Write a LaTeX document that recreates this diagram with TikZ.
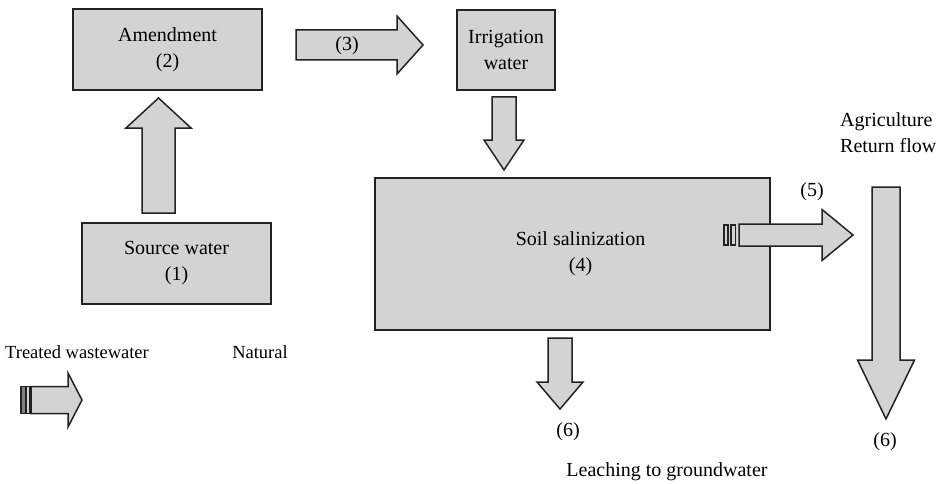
\documentclass[tikz,border=0pt]{standalone}
\usepackage{fontspec}
\setmainfont{Liberation Serif}
\usepackage{xcolor}
\usetikzlibrary{calc}
\definecolor{boxgray}{HTML}{D3D3D3}
\definecolor{inkgray}{HTML}{222222}
% fat arrow: tail, tip, half shaft, half head, head length
\newcommand{\fatflow}[5]{%
  \coordinate (hb) at ($(#2)!#5pt!(#1)$);
  \draw[F] ($(#1)!#3pt!90:(#2)$) -- ($(hb)!#3pt!90:(#2)$) -- ($(hb)!#4pt!90:(#2)$)
    -- (#2) -- ($(hb)!#4pt!-90:(#2)$) -- ($(hb)!#3pt!-90:(#2)$) -- ($(#1)!#3pt!-90:(#2)$) -- cycle;}

\begin{document}
\begin{tikzpicture}[x=1pt,y=-1pt,font=\fontsize{20}{26}\selectfont]
      \useasboundingbox(0,0) rectangle (944,484);
      \tikzset{B/.style = {draw=inkgray, fill=boxgray, line width=1.5pt, align=center, inner sep=0pt}}
      \tikzset{F/.style = {draw=inkgray, fill=boxgray, line width=1.5pt}}
      \tikzset{T/.style = {inner sep=0pt, text=black}}
      \tikzset{legend/.style = {T, font=\fontsize{18.5}{22}\selectfont}}
      \node[B,minimum width=189pt,minimum height=81pt](amend) at (167.5,49.5) {Amendment\\(2)};
      \node[B,minimum width=189pt,minimum height=81pt](src) at (176.5,263.5) {Source water\\(1)};
      \node[B,minimum width=98pt,minimum height=80pt](irrig) at (506,50) {Irrigation\\water};
      \node[B,minimum width=395pt,minimum height=152pt](soil) at (572.5,254) {Soil salinization\hspace*{-16pt}\\(4)\hspace*{-16pt}};
      \node[legend,anchor=base west](treated) at (5,358) {Treated wastewater};
      \node[legend,anchor=base](natural) at (260,358) {Natural};
      \node[T,anchor=base west](agri) at (840,126) {Agriculture};
      \node[T,anchor=base west](ret) at (840,152) {Return flow};
      \node[T,anchor=base](leach) at (667,476) {Leaching to groundwater};
      \coordinate (up0) at (158.5,213);
      \coordinate (up1) at (158.5,98);
      \coordinate (q0) at (296,45);
      \coordinate (q1) at (423,45);
      \coordinate (ir0) at (504,97);
      \coordinate (ir1) at (504,170);
      \coordinate (le0) at (560,338);
      \coordinate (le1) at (560,409);
      \coordinate (rf0) at (739,235);
      \coordinate (rf1) at (853,235);
      \coordinate (ag0) at (886,187);
      \coordinate (ag1) at (886,419);
      \coordinate (tw0) at (31,400);
      \coordinate (tw1) at (82,400);
      \fatflow{up0}{up1}{16.5}{32.5}{30}
      \fatflow{q0}{q1}{15}{29}{26}
      \fatflow{ir0}{ir1}{12}{20}{30}
      \fatflow{le0}{le1}{12}{23}{27}
      \fatflow{rf0}{rf1}{11}{25.5}{31}
      \fatflow{ag0}{ag1}{14}{28.5}{59}
      \fatflow{tw0}{tw1}{13.5}{27}{14}
      % bars at the tails
      \draw[F,line width=1.2pt] ($(rf0)+(-15,-10)$) rectangle ($(rf0)+(-11,10)$);
      \draw[F,line width=1.2pt] ($(rf0)+(-8,-10)$) rectangle ($(rf0)+(-3.5,10)$);
      \draw[F,line width=1.2pt,fill=gray] ($(tw0)+(-10,-13.5)$) rectangle ($(tw0)+(-5.5,13.5)$);
      \draw[F,line width=1.2pt] ($(tw0)+(-4.5,-13.5)$) rectangle ($(tw0)+(-1,13.5)$);
      \node[T,anchor=base](lab3) at (347,51) {(3)};
      \node[T,anchor=base](lab5) at (812,196) {(5)};
      \node[T,anchor=base](lab6a) at (568,436) {(6)};
      \node[T,anchor=base](lab6b) at (885,446) {(6)};
    \end{tikzpicture}
\end{document}
